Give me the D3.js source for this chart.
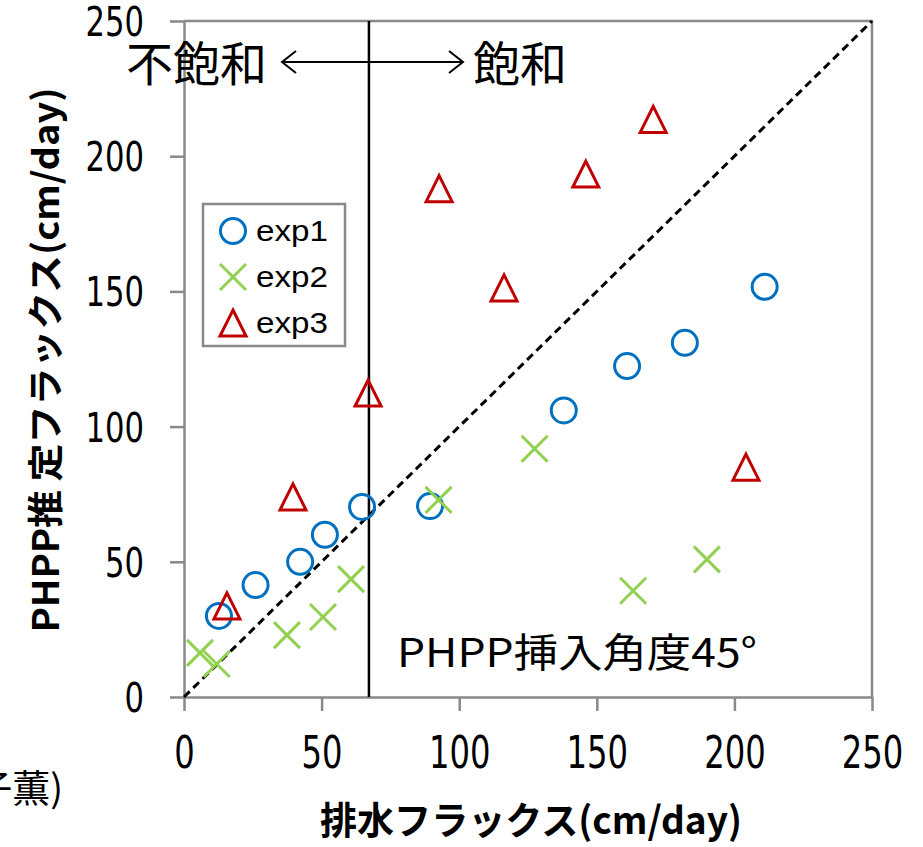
<!DOCTYPE html>
<html>
<head>
<meta charset="utf-8">
<script src="https://cdn.jsdelivr.net/npm/d3@7"></script>
<style>
  body { margin: 0; background: #fff; }
  svg { display: block; }
</style>
</head>
<body>
<svg id="chart"></svg>
<script>
// values
const exp1X = [12.7, 26, 42.2, 51.2, 64.7, 89.4, 138, 161, 182, 211]
const exp1Y = [30, 41.4, 50, 60, 70.3, 70.6, 106, 122.4, 131, 151.7]
const exp2X = [5.8, 11.9, 37.4, 50.5, 60.7, 92.5, 127.4, 163.2, 190]
const exp2Y = [16.3, 12.2, 22.9, 29.6, 43.6, 72.9, 91.8, 39.3, 50.9]
const exp3X = [15.6, 39.6, 66.9, 92.7, 116.3, 146, 170.5, 204.2]
const exp3Y = [33.7, 74, 112.4, 188, 151.3, 193.4, 213.6, 85]
const seriesNames = ['exp1', 'exp2', 'exp3']
const ticks = [0, 50, 100, 150, 200, 250]
const boundary = 67.2   // 不飽和 / 飽和 boundary

const width = 923, height = 847
const margin = {top: 21, right: 51, bottom: 150, left: 184}
const gray = '#898989'
const colors = {exp1: '#0070C0', exp2: '#92D050', exp3: '#C00000'}
const numFont = "'Liberation Sans Narrow', 'DejaVu Sans Condensed', 'Liberation Sans', sans-serif"
const jpFont = "'Noto Sans CJK JP', 'Noto Sans', sans-serif"

const svg = d3.select('#chart')
    .attr('width', width)
    .attr('height', height)

const x = d3.scaleLinear()
    .domain([0, 250])
    .range([margin.left, width - margin.right])

const y = d3.scaleLinear()
    .domain([0, 250])
    .range([height - margin.bottom, margin.top])

// frame (top & right)
svg.append('path')
    .attr('d', `M${x(0)},${y(250)}H${x(250)}V${y(0)}`)
    .attr('fill', 'none')
    .attr('stroke', gray)
    .attr('stroke-width', 2.5)

const xAxis = g => g
    .attr('transform', `translate(0,${y(0)})`)
    .call(d3.axisBottom(x).tickValues(ticks).tickSize(14).tickSizeOuter(0).tickPadding(26))
    .call(g => g.selectAll('line, path').attr('stroke', gray).attr('stroke-width', 2.5))
    .call(g => g.selectAll('text')
        .attr('fill', '#000')
        .attr('textLength', d => String(d).length * 20.5)
        .attr('lengthAdjust', 'spacingAndGlyphs')
        .style('font-family', numFont)
        .style('font-size', '44px'))

const yAxis = g => g
    .attr('transform', `translate(${x(0)},0)`)
    .call(d3.axisLeft(y).tickValues(ticks).tickSize(14).tickSizeOuter(0).tickPadding(26))
    .call(g => g.selectAll('line, path').attr('stroke', gray).attr('stroke-width', 2.5))
    .call(g => g.selectAll('text')
        .attr('fill', '#000')
        .attr('dy', '0.36em')
        .attr('textLength', d => String(d).length * 19.5)
        .attr('lengthAdjust', 'spacingAndGlyphs')
        .style('font-family', numFont)
        .style('font-size', '40px'))

svg.append('g').call(xAxis)
svg.append('g').call(yAxis)

// 1:1 dashed line
svg.append('line')
    .attr('x1', x(0)).attr('y1', y(0))
    .attr('x2', x(250)).attr('y2', y(250))
    .attr('stroke', '#000')
    .attr('stroke-width', 3)
    .attr('stroke-dasharray', '8,5')

// saturation boundary
svg.append('line')
    .attr('x1', x(boundary)).attr('y1', y(250))
    .attr('x2', x(boundary)).attr('y2', y(0))
    .attr('stroke', '#000')
    .attr('stroke-width', 2.5)

// markers
const circleMark = (g, c) => g.append('circle')
    .attr('r', 12.5).attr('fill', 'none')
    .attr('stroke', c).attr('stroke-width', 3)
const crossMark = (g, c) => g.append('path')
    .attr('d', 'M-13,-13L13,13M-13,13L13,-13')
    .attr('stroke', c).attr('stroke-width', 3)
const triMark = (g, c) => g.append('path')
    .attr('d', 'M0,-13L13,13H-13Z').attr('fill', 'none')
    .attr('stroke', c).attr('stroke-width', 3).attr('stroke-linejoin', 'miter')
const markers = {exp1: circleMark, exp2: crossMark, exp3: triMark}

const series = [
    {name: 'exp1', xs: exp1X, ys: exp1Y},
    {name: 'exp2', xs: exp2X, ys: exp2Y},
    {name: 'exp3', xs: exp3X, ys: exp3Y}
]

series.forEach(s => {
    s.xs.forEach((v, i) => {
        const g = svg.append('g')
            .attr('transform', `translate(${x(v)},${y(s.ys[i])})`)
        markers[s.name](g, colors[s.name])
    })
})

// legend
const legend = svg.append('g').attr('transform', 'translate(203,204)')
legend.append('rect')
    .attr('width', 142).attr('height', 142)
    .attr('fill', '#fff')
    .attr('stroke', gray).attr('stroke-width', 2.5)
seriesNames.forEach((n, i) => {
    const row = legend.append('g').attr('transform', `translate(30,${27 + i * 46})`)
    markers[n](row, colors[n])
    row.append('text')
        .attr('x', 23).attr('y', 10)
        .attr('textLength', 72).attr('lengthAdjust', 'spacingAndGlyphs')
        .style('font-family', "'Liberation Sans', Arial, sans-serif")
        .style('font-size', '29px')
        .text(n)
})

// annotations
svg.append('text')
    .attr('x', 126).attr('y', 81)
    .style('font-family', jpFont).style('font-size', '47px')
    .text('不飽和')
svg.append('text')
    .attr('x', 473).attr('y', 81)
    .style('font-family', jpFont).style('font-size', '47px')
    .text('飽和')

const ay = 62
svg.append('path')
    .attr('d', `M282,${ay}H463M296,${ay - 11}L282,${ay}L296,${ay + 11}M449,${ay - 11}L463,${ay}L449,${ay + 11}`)
    .attr('fill', 'none')
    .attr('stroke', '#000')
    .attr('stroke-width', 2)

svg.append('text')
    .attr('x', 397).attr('y', 667)
    .attr('textLength', 360).attr('lengthAdjust', 'spacingAndGlyphs')
    .style('font-family', jpFont).style('font-size', '40px')
    .text('PHPP挿入角度45°')

// axis titles
svg.append('text')
    .attr('x', 531).attr('y', 834)
    .attr('text-anchor', 'middle')
    .attr('textLength', 422).attr('lengthAdjust', 'spacingAndGlyphs')
    .style('font-family', jpFont).style('font-size', '38px').style('font-weight', 'bold')
    .text('排水フラックス(cm/day)')

svg.append('text')
    .attr('transform', 'translate(59,360) rotate(-90)')
    .attr('text-anchor', 'middle')
    .attr('textLength', 545).attr('lengthAdjust', 'spacingAndGlyphs')
    .style('font-family', jpFont).style('font-size', '36px').style('font-weight', 'bold')
    .text('PHPP推 定フラックス(cm/day)')

// cropped caption fragment at the bottom-left
svg.append('text')
    .attr('x', 63).attr('y', 802)
    .attr('text-anchor', 'end')
    .style('font-family', jpFont).style('font-size', '38px')
    .text('子薫)')
</script>
</body>
</html>
